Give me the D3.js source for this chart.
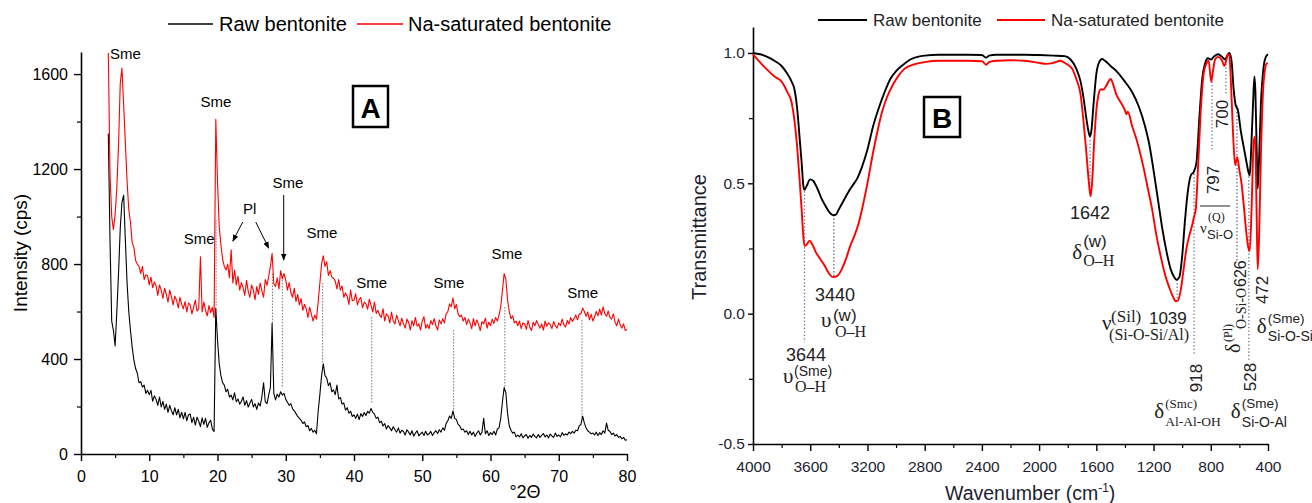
<!DOCTYPE html>
<html><head><meta charset="utf-8">
<script src="https://cdn.jsdelivr.net/npm/d3@7"></script>
<style>
body{margin:0;background:#fff;}
svg{display:block;font-family:"Liberation Sans",Arial,sans-serif;}
</style></head><body>
<svg id="c" width="1312" height="503"></svg>
<script>
// ---------- Panel A: XRD data (2θ grid 4°..80°, step 0.25°) ----------
const xrdStart = 4, xrdStep = 0.25;
const xrdNa = [
1690,1180,1000,945, 1010,1120,1300,1560, 1625,1470,1310,1150, 1030,975,890,870,
815,800,790,760, 790,735,755,752, 712,745,700,725, 708,668,712,690,
655,698,672,640, 690,662,628,665, 648,615,660,630, 612,642,598,636,
628,590,618,648, 602,612,830,598, 640,605,582,625, 595,618,575,1410,
1150,960,880,820, 790,775,800,742, 860,720,775,712, 748,690,722,700,
668,732,685,660, 712,690,650,705, 672,720,688,660, 735,710,748,790,
845,718,705,742, 695,772,738,760, 732,690,722,680, 660,698,642,672,
628,655,605,630, 612,575,618,590, 560,585,568,640, 720,800,835,790,
810,752,772,745, 740,728,695,735, 690,708,660,678, 665,630,690,645,
648,675,628,650, 660,615,640,632, 610,652,625,598, 640,592,605,585,
575,612,560,590, 582,552,598,560, 548,585,562,540, 572,548,530,568,
555,522,562,540, 575,538,548,522, 560,578,530,545, 528,562,545,570,
540,522,565,548, 570,552,590,600, 632,620,658,612, 630,590,578,585,
560,575,545,568, 552,528,570,540, 565,545,520,558, 548,572,530,555,
540,568,550,575, 560,585,620,690, 760,735,650,600, 570,582,552,560,
540,560,528,552, 548,525,562,535, 520,555,540,562, 545,530,548,522,
560,538,552,545, 528,558,540,530, 552,540,568,545, 535,562,548,575,
558,570,585,565, 590,590,615,600, 580,598,565,588, 560,578,600,582,
610,585,620,590, 580,602,575,568, 590,555,540,568, 545,530,548,520,
525];
const xrdRaw = [
1350,900,560,520, 455,600,760,950, 1060,1090,900,720, 600,520,450,395,
360,340,300,305, 282,290,255,268, 250,268,222,245, 230,205,240,198,
222,188,210,175, 205,182,165,195, 165,188,152,176, 148,175,140,165,
168,132,155,122, 155,138,115,152, 125,150,112,132, 142,105,95,615,
480,380,330,300, 290,262,272,240, 248,228,258,220, 232,210,222,240,
205,225,198,215, 230,198,212,188, 215,202,240,300, 220,212,248,280,
550,255,228,252, 240,262,248,255, 230,218,205,212, 190,182,170,158,
150,142,128,135, 115,120,98,108, 92,100,85,180, 250,330,380,330,
320,288,300,262, 270,250,290,232, 238,210,215,185, 195,172,180,158,
165,150,168,145, 170,158,175,162, 180,172,192,175, 168,150,155,132,
138,118,128,105, 120,110,98,115, 102,92,110,88, 100,95,80,102,
92,80,98,75, 88,98,76,85, 92,78,96,80, 85,95,78,90,
98,86,102,92, 110,100,128,140, 160,150,182,150, 145,125,118,102,
105,92,98,82, 96,80,92,74, 88,98,80,92, 150,85,98,78,
90,82,96,80, 105,110,150,220, 280,258,170,118, 100,88,92,72,
80,72,85,68, 76,82,66,78, 70,84,74,68, 82,70,78,86,
72,80,68,84, 76,70,88,74, 80,72,90,78, 85,80,92,86,
95,88,100,98, 118,125,160,130, 110,98,92,85, 88,80,92,78,
90,82,98,88, 130,100,95,82, 88,76,82,70, 74,64,70,58,
60];
const xrdTicksX = [0,10,20,30,40,50,60,70,80];
const xrdMinorX = [5,15,25,35,45,55,65,75];
const xrdTicksY = [0,400,800,1200,1600];
const xrdMinorY = [200,600,1000,1400];
const xrdPeakLines = [19.8,28.05,29.5,35.4,42.6,54.6,62.1,73.4];
const xrdPeakTop = [985,760,733,720,577,522,619,564];
const xrdPeakBottom = [619,551,282,383,215,185,282,156];

// ---------- Panel B: FTIR data ----------
const ftirRawWn = [4000,3950,3900,3850,3800,3760,3730,3710,3690,3675,3660,3648,3640,3625,3600,3580,3550,3520,3490,3460,3440,3420,3400,3370,3330,3300,3270,3240,3200,3160,3120,3080,3040,3000,2950,2900,2850,2800,2700,2500,2400,2370,2350,2300,2100,2000,1900,1820,1780,1740,1710,1690,1670,1655,1645,1635,1620,1600,1580,1560,1540,1500,1450,1400,1350,1300,1260,1230,1200,1170,1140,1110,1080,1055,1039,1020,1000,980,960,940,918,900,880,860,840,820,797,780,750,720,700,685,670,655,640,626,610,590,570,550,535,528,520,505,495,488,480,472,465,450,430,415,400];
const ftirRawT = [1.00,0.995,0.985,0.97,0.95,0.92,0.89,0.86,0.78,0.68,0.58,0.49,0.475,0.49,0.515,0.51,0.48,0.44,0.41,0.385,0.378,0.38,0.40,0.43,0.47,0.495,0.52,0.56,0.63,0.72,0.79,0.85,0.90,0.93,0.955,0.975,0.985,0.99,0.993,0.993,0.992,0.982,0.99,0.993,0.993,0.992,0.99,0.988,0.975,0.94,0.89,0.83,0.75,0.70,0.68,0.70,0.80,0.92,0.965,0.977,0.97,0.95,0.925,0.89,0.85,0.79,0.72,0.65,0.55,0.44,0.33,0.24,0.17,0.14,0.13,0.14,0.22,0.36,0.47,0.53,0.545,0.58,0.75,0.90,0.96,0.98,0.975,0.985,0.995,0.985,0.975,0.99,1.00,0.97,0.86,0.80,0.78,0.70,0.64,0.58,0.54,0.53,0.60,0.80,0.91,0.85,0.65,0.48,0.55,0.80,0.95,0.985,0.995];
const ftirNaWn = [4000,3960,3900,3850,3800,3760,3730,3710,3690,3675,3660,3650,3640,3625,3605,3585,3560,3530,3500,3470,3440,3410,3380,3350,3320,3290,3260,3230,3200,3160,3130,3100,3060,3020,2980,2940,2880,2800,2700,2500,2400,2370,2350,2300,2200,2100,2000,1950,1900,1850,1830,1800,1770,1740,1710,1690,1670,1655,1640,1630,1615,1600,1585,1570,1550,1530,1510,1500,1480,1460,1440,1400,1390,1380,1350,1320,1300,1270,1240,1210,1180,1150,1120,1090,1060,1045,1030,1010,990,970,950,930,918,905,890,870,850,830,815,797,785,770,750,725,705,695,680,670,660,645,630,615,600,585,570,555,540,528,515,500,490,480,472,462,450,435,420,410,400];
const ftirNaT = [0.995,0.97,0.935,0.91,0.89,0.85,0.81,0.74,0.63,0.52,0.40,0.31,0.26,0.265,0.28,0.265,0.235,0.21,0.185,0.155,0.14,0.145,0.17,0.21,0.26,0.30,0.35,0.42,0.50,0.62,0.70,0.77,0.835,0.88,0.915,0.94,0.955,0.965,0.97,0.97,0.968,0.955,0.965,0.97,0.972,0.97,0.962,0.958,0.962,0.97,0.965,0.955,0.94,0.90,0.84,0.74,0.62,0.52,0.45,0.50,0.66,0.78,0.84,0.86,0.86,0.875,0.895,0.90,0.875,0.84,0.82,0.78,0.765,0.775,0.72,0.67,0.63,0.56,0.48,0.40,0.30,0.22,0.15,0.10,0.06,0.048,0.05,0.09,0.17,0.25,0.30,0.34,0.37,0.40,0.55,0.78,0.92,0.96,0.97,0.89,0.93,0.975,0.985,0.975,0.95,0.965,0.995,0.99,0.90,0.70,0.57,0.60,0.55,0.50,0.42,0.33,0.26,0.24,0.40,0.66,0.68,0.40,0.17,0.30,0.60,0.85,0.94,0.96,0.96];
const ftirTicksX = [4000,3600,3200,2800,2400,2000,1600,1200,800,400];
const ftirMinorX = [3800,3400,3000,2600,2200,1800,1400,1000,600];
const ftirTicksY = [-0.5,0.0,0.5,1.0];
const ftirMinorY = [-0.25,0.25,0.75];
const ftirBandWn = [3640,3435,1644,1035,917,791,694,617,534];
const ftirBandTop = [0.47,0.378,0.68,0.13,0.55,0.89,0.985,0.80,0.54];
const ftirBandBottom = [-0.11,0.14,0.45,0.05,-0.16,0.63,0.84,0.20,-0.18];

const SANS = '"Liberation Sans",Arial,sans-serif';
const SERIF = '"Liberation Serif","Times New Roman",serif';
const svg = d3.select('#c');
svg.append('rect').attr('width',1312).attr('height',503).attr('fill','#fff');
const defs = svg.append('defs');
defs.append('marker').attr('id','arr').attr('viewBox','0 0 10 10').attr('refX',9).attr('refY',5)
  .attr('markerWidth',7).attr('markerHeight',7).attr('orient','auto')
  .append('path').attr('d','M0,1 L10,5 L0,9 z').attr('fill','#000');

function styleAxis(g, size, color){
  g.select('.domain').attr('stroke','#000').attr('stroke-width',1.6);
  g.selectAll('.tick line').attr('stroke','#000').attr('stroke-width',1.4);
  g.selectAll('.tick text').attr('font-size',size).attr('font-family',SANS).attr('fill',color||'#000');
  g.attr('font-family',null).attr('font-size',null);
}
function minor(g){ g.select('.domain').remove(); g.selectAll('.tick line').attr('stroke','#000').attr('stroke-width',1.2); }

// ================= Panel A =================
const xA = d3.scaleLinear().domain([0,80]).range([81,627]);
const yA = d3.scaleLinear().domain([0,1693]).range([454,52]);
const gA = svg.append('g');

gA.append('g').attr('transform','translate(0,454)')
  .call(d3.axisBottom(xA).tickValues(xrdMinorX).tickSize(4).tickFormat('')).call(minor);
gA.append('g').attr('transform','translate(81,0)')
  .call(d3.axisLeft(yA).tickValues(xrdMinorY).tickSize(4).tickFormat('')).call(minor);
gA.append('g').attr('transform','translate(0,454)')
  .call(d3.axisBottom(xA).tickValues(xrdTicksX).tickSize(7).tickSizeOuter(0).tickPadding(10).tickFormat(d3.format('d')))
  .call(g=>styleAxis(g,16));
gA.append('g').attr('transform','translate(81,0)')
  .call(d3.axisLeft(yA).tickValues(xrdTicksY).tickSize(7).tickSizeOuter(0).tickPadding(6).tickFormat(d3.format('d')))
  .call(g=>styleAxis(g,16));

gA.selectAll('line.pk').data(xrdPeakLines).join('line')
  .attr('x1',d=>xA(d)).attr('x2',d=>xA(d))
  .attr('y1',(d,i)=>yA(xrdPeakTop[i])).attr('y2',(d,i)=>yA(xrdPeakBottom[i]))
  .attr('stroke','#777').attr('stroke-width',1).attr('stroke-dasharray','1.5,1.5');

const lineA = d3.line().x((d,i)=>xA(xrdStart+i*xrdStep)).y(d=>yA(d));
gA.append('path').datum(xrdRaw).attr('d',lineA).attr('fill','none').attr('stroke','#000').attr('stroke-width',1.1).attr('stroke-linejoin','round');
gA.append('path').datum(xrdNa).attr('d',lineA).attr('fill','none').attr('stroke','#ff0000').attr('stroke-width',1.1).attr('stroke-linejoin','round');

const xrdLabels = [
  {t:'Sme',x:4.25,y:1663,a:'start'},{t:'Sme',x:19.77,y:1461},{t:'Sme',x:17.3,y:884},
  {t:'Pl',x:24.7,y:1010},{t:'Sme',x:30.3,y:1120},{t:'Sme',x:35.3,y:909},
  {t:'Sme',x:42.6,y:699},{t:'Sme',x:53.9,y:699},{t:'Sme',x:62.4,y:821},{t:'Sme',x:73.5,y:657}];
gA.selectAll('text.lab').data(xrdLabels).join('text')
  .attr('x',d=>xA(d.x)).attr('y',d=>yA(d.y)).attr('text-anchor',d=>d.a||'middle')
  .attr('font-size',15).attr('font-family',SANS).text(d=>d.t);
const xrdArrows = [[23.7,977,22.25,897],[25.6,977,27.5,867],[29.7,1091,29.7,817]];
gA.selectAll('line.arr').data(xrdArrows).join('line')
  .attr('x1',d=>xA(d[0])).attr('y1',d=>yA(d[1])).attr('x2',d=>xA(d[2])).attr('y2',d=>yA(d[3]))
  .attr('stroke','#000').attr('stroke-width',1).attr('marker-end','url(#arr)');

gA.append('text').attr('transform','translate(27,253) rotate(-90)').attr('text-anchor','middle')
  .attr('font-size',19).text('Intensity (cps)');
gA.append('text').attr('x',525).attr('y',498).attr('text-anchor','middle').attr('font-size',18).text('°2Θ');
gA.append('line').attr('x1',168).attr('x2',213).attr('y1',24).attr('y2',24).attr('stroke','#000').attr('stroke-width',1.5);
gA.append('text').attr('x',219).attr('y',31).attr('font-size',20).text('Raw bentonite');
gA.append('line').attr('x1',357).attr('x2',403).attr('y1',24).attr('y2',24).attr('stroke','#ff0000').attr('stroke-width',1.5);
gA.append('text').attr('x',408).attr('y',31).attr('font-size',20).text('Na-saturated bentonite');
gA.append('rect').attr('x',353).attr('y',86).attr('width',35).attr('height',41).attr('fill','none').attr('stroke','#000').attr('stroke-width',2.5);
gA.append('text').attr('x',370.5).attr('y',118).attr('text-anchor','middle').attr('font-weight','bold').attr('font-size',28).text('A');

// ================= Panel B =================
const xB = d3.scaleLinear().domain([4000,400]).range([753,1268]);
const yB = d3.scaleLinear().domain([-0.5,1.1]).range([444,26.9]);
const gB = svg.append('g');
const tickCol = '#1e1e30';

gB.append('g').attr('transform','translate(0,444)')
  .call(d3.axisBottom(xB).tickValues(ftirMinorX).tickSize(4).tickFormat('')).call(minor);
gB.append('g').attr('transform','translate(753,0)')
  .call(d3.axisLeft(yB).tickValues(ftirMinorY).tickSize(4).tickFormat('')).call(minor);
gB.append('g').attr('transform','translate(0,444)')
  .call(d3.axisBottom(xB).tickValues(ftirTicksX).tickSize(7).tickSizeOuter(0).tickPadding(10).tickFormat(d3.format('d')))
  .call(g=>styleAxis(g,15.5,tickCol));
gB.append('g').attr('transform','translate(753,0)')
  .call(d3.axisLeft(yB).tickValues(ftirTicksY).tickSize(5).tickSizeOuter(0).tickPadding(3).tickFormat(d=>d.toFixed(1)))
  .call(g=>styleAxis(g,15.5,tickCol));

gB.selectAll('line.bd').data(ftirBandWn).join('line')
  .attr('x1',d=>xB(d)).attr('x2',d=>xB(d))
  .attr('y1',(d,i)=>yB(ftirBandTop[i])).attr('y2',(d,i)=>yB(ftirBandBottom[i]))
  .attr('stroke','#6d6a8a').attr('stroke-width',1.3).attr('stroke-dasharray','1.3,2.2');

const rawPts = ftirRawWn.map((w,i)=>[w,ftirRawT[i]]);
const naPts = ftirNaWn.map((w,i)=>[w,ftirNaT[i]]);
const lineB = d3.line().x(d=>xB(d[0])).y(d=>yB(d[1])).curve(d3.curveMonotoneX);
gB.append('path').datum(rawPts).attr('d',lineB).attr('fill','none').attr('stroke','#000').attr('stroke-width',1.9);
gB.append('path').datum(naPts).attr('d',lineB).attr('fill','none').attr('stroke','#ff0000').attr('stroke-width',1.9);

const TXT = '#222';
const ftirNums = [
  {t:'3644',w:3630,v:-0.182,s:18},{t:'3440',w:3427,v:0.048,s:18},
  {t:'1642',w:1644,v:0.363,s:18},{t:'1039',w:1100,v:-0.04,s:17}];
gB.selectAll('text.num').data(ftirNums).join('text')
  .attr('x',d=>xB(d.w)).attr('y',d=>yB(d.v)).attr('text-anchor','middle')
  .attr('font-size',d=>d.s).attr('fill',TXT).text(d=>d.t);
const ftirRot = [
  {t:'918',w:861,v:-0.247},{t:'797',w:743,v:0.513},{t:'700',w:680,v:0.766},
  {t:'528',w:484,v:-0.243},{t:'472',w:400,v:0.091}];
gB.selectAll('text.rot').data(ftirRot).join('text')
  .attr('transform',d=>`translate(${xB(d.w)},${yB(d.v)}) rotate(-90)`)
  .attr('text-anchor','middle').attr('font-size',17).attr('fill',TXT).text(d=>d.t);

function symLabel(w,v,o){
  const x=xB(w), y=yB(v);
  gB.append('text').attr('x',x).attr('y',y).attr('font-family',SERIF).attr('font-size',o.ss||21).attr('fill',TXT).text(o.sym);
  gB.append('text').attr('x',x+o.dx).attr('y',y+o.supDy).attr('font-family',o.supF).attr('font-size',o.supS).attr('fill',TXT).text(o.sup);
  gB.append('text').attr('x',x+o.dx2).attr('y',y+o.subDy).attr('font-family',o.subF).attr('font-size',o.subS).attr('fill',TXT).text(o.sub);
}
symLabel(3790,-0.266,{sym:'υ',dx:11,supDy:-7,sup:'(Sme)',supF:SANS,supS:14,dx2:12,subDy:9,sub:'O–H',subF:SERIF,subS:16});
symLabel(3525,-0.05,{sym:'υ',dx:12,supDy:-6,sup:'(w)',supF:SANS,supS:17,dx2:14,subDy:10,sub:'O–H',subF:SERIF,subS:16});
symLabel(1769,0.21,{sym:'δ',dx:11,supDy:-12,sup:'(w)',supF:SANS,supS:17,dx2:11,subDy:7,sub:'O–H',subF:SERIF,subS:16});
symLabel(1560,-0.063,{sym:'ν',dx:9,supDy:-8,sup:'(Sil)',supF:SERIF,supS:17,dx2:7,subDy:10,sub:'(Si-O-Si/Al)',subF:SERIF,subS:16});
symLabel(1195,-0.4,{sym:'δ',dx:11,supDy:-10,sup:'(Smc)',supF:SERIF,supS:13,dx2:11,subDy:8,sub:'Al-Al-OH',subF:SERIF,subS:13.5});
symLabel(660,-0.4,{sym:'δ',dx:11,supDy:-10,sup:'(Sme)',supF:SANS,supS:13.5,dx2:11,subDy:9,sub:'Si-O-Al',subF:SANS,subS:14});
symLabel(478,-0.075,{sym:'δ',dx:11,supDy:-10,sup:'(Sme)',supF:SANS,supS:13.5,dx2:11,subDy:8,sub:'Si-O-Si',subF:SANS,subS:14});
symLabel(875,0.31,{sym:'ν',ss:15,dx:8,supDy:-12,sup:'(Q)',supF:SERIF,supS:12,dx2:7,subDy:6,sub:'Si-O',subF:SANS,subS:13});
gB.append('line').attr('x1',xB(875)).attr('x2',xB(665)).attr('y1',yB(0.413)).attr('y2',yB(0.413)).attr('stroke','#555').attr('stroke-width',1.3);
const rg = gB.append('g').attr('transform',`translate(${xB(557)},${yB(-0.151)}) rotate(-90)`).attr('fill',TXT);
rg.append('text').attr('x',0).attr('y',-6).attr('font-family',SERIF).attr('font-size',20).text('δ');
rg.append('text').attr('x',11).attr('y',-14).attr('font-family',SERIF).attr('font-size',12).text('(Pl)');
rg.append('text').attr('x',24).attr('y',0).attr('font-family',SERIF).attr('font-size',14).text('O-Si-O');
rg.append('text').attr('x',66).attr('y',0).attr('font-size',16).text('626');

gB.append('text').attr('transform','translate(706,237) rotate(-90)').attr('text-anchor','middle')
  .attr('font-size',20).attr('fill','#1e1e30').text('Transmittance');
const xt = gB.append('text').attr('x',945).attr('y',500).attr('font-size',19.5).attr('fill','#1e1e30');
xt.append('tspan').text('Wavenumber (cm');
xt.append('tspan').attr('font-size',12).attr('dy',-8).text('-1');
xt.append('tspan').attr('dy',8).text(')');
gB.append('line').attr('x1',818).attr('x2',867).attr('y1',20).attr('y2',20).attr('stroke','#000').attr('stroke-width',2);
gB.append('text').attr('x',873).attr('y',26).attr('font-size',17).attr('fill',TXT).text('Raw bentonite');
gB.append('line').attr('x1',997).attr('x2',1045).attr('y1',20).attr('y2',20).attr('stroke','#ff0000').attr('stroke-width',2);
gB.append('text').attr('x',1051).attr('y',26).attr('font-size',17).attr('fill',TXT).text('Na-saturated bentonite');
gB.append('rect').attr('x',924).attr('y',97).attr('width',36).attr('height',40).attr('fill','none').attr('stroke','#000').attr('stroke-width',2.5);
gB.append('text').attr('x',942).attr('y',128).attr('text-anchor','middle').attr('font-weight','bold').attr('font-size',28).text('B');
</script>
</body></html>
